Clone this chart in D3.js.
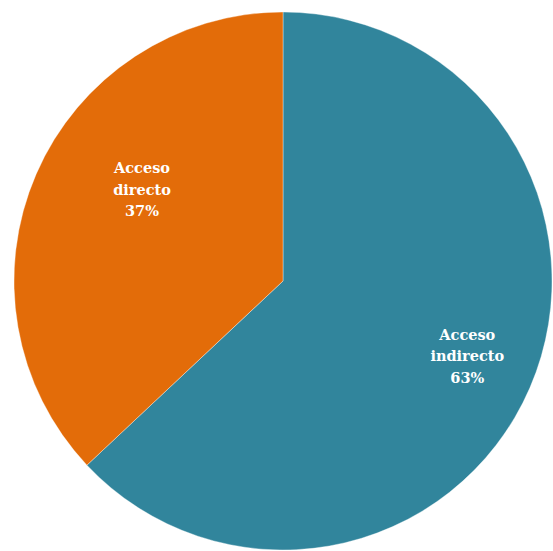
<!DOCTYPE html>
<html>
<head>
<meta charset="utf-8">
<script src="https://cdn.jsdelivr.net/npm/d3@7/dist/d3.min.js"></script>
<style>
  html, body { margin: 0; padding: 0; background: #ffffff; }
  svg { display: block; }
</style>
</head>
<body>
<svg id="chart" width="553" height="551"></svg>
<script>
// Data
const categories = ["Acceso indirecto", "Acceso directo"];
const labelLines = [["Acceso", "indirecto"], ["Acceso", "directo"]];
const values = [63, 37];
const percentLabels = ["63%", "37%"];
const colors = ["#31859C", "#E36C09"];

const W = 553, H = 551;
const cx = 283, cy = 281, R = 269;

const svg = d3.select("#chart");
const g = svg.append("g").attr("transform", `translate(${cx},${cy})`);

const pie = d3.pie().sort(null).value(d => d)(values);
const arc = d3.arc().innerRadius(0).outerRadius(R);

g.selectAll("path.slice")
  .data(pie)
  .enter().append("path")
  .attr("class", "slice")
  .attr("d", arc)
  .attr("fill", (d, i) => colors[i])
  .attr("stroke", "rgba(255,255,255,0.45)")
  .attr("stroke-width", 0.8);

// Label placement (best-fit style): fraction of radius and angle (radians, clockwise from top)
const labelLayout = [
  { r: 0.74, a: 112.2 * Math.PI / 180 },
  { r: 0.625, a: 303.0 * Math.PI / 180 }
];

const lineH = 21.5;
pie.forEach((d, i) => {
  const L = labelLayout[i];
  const x = L.r * R * Math.sin(L.a);
  const y = -L.r * R * Math.cos(L.a);
  const lines = labelLines[i].concat([percentLabels[i]]);
  const t = g.append("text")
    .attr("text-anchor", "middle")
    .attr("font-family", "'DejaVu Serif', 'Liberation Serif', serif")
    .attr("font-weight", "bold")
    .attr("font-size", 14.5)
    .attr("fill", "#ffffff");
  lines.forEach((ln, j) => {
    t.append("tspan")
      .attr("x", x)
      .attr("y", y + (j - (lines.length - 1) / 2) * lineH)
      .attr("dy", "0.35em")
      .text(ln);
  });
});
</script>
</body>
</html>
